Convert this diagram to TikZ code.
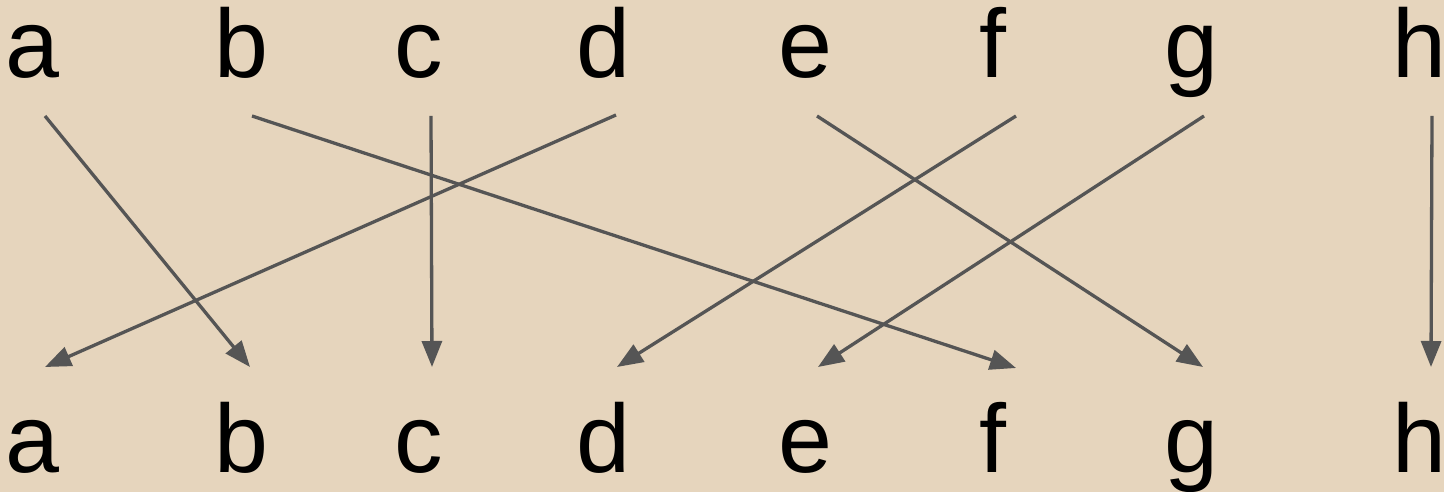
\documentclass[tikz,border=0pt]{standalone}
\usepackage{fontspec}
\setmainfont{Liberation Sans}
\usetikzlibrary{arrows.meta}
\definecolor{bg}{HTML}{E6D5BD}
\definecolor{arr}{HTML}{555555}
\begin{document}
\begin{tikzpicture}[x=1pt,y=1pt,
  letter/.style={anchor=base,inner sep=0pt,font=\fontsize{97}{100}\selectfont,text=black},
  conn/.style={draw=arr,line width=3.3pt,-{Triangle[length=26pt,width=20pt]}}]
\fill[bg] (0,0) rectangle (1444,492);
\useasboundingbox (0,0) rectangle (1444,492);
% letters, top and bottom rows
\foreach \n/\x in {a/32.5,b/241,c/419,d/603.5,e/805,f/993,g/1191,h/1419}{
  \node[letter] (t\n) at (\x,414) {\n};
  \node[letter] (b\n) at (\x,19) {\n};
}
% start coordinates
\coordinate (sa) at (45,376);
\coordinate (sb) at (252,376);
\coordinate (sc) at (431,376);
\coordinate (sd) at (616,377);
\coordinate (se) at (817,376);
\coordinate (sf) at (1016,376);
\coordinate (sg) at (1204,376);
\coordinate (sh) at (1432,376);
% end coordinates
\coordinate (ea) at (45,125);
\coordinate (eb) at (250,125);
\coordinate (ec) at (432,125);
\coordinate (ed) at (617,125);
\coordinate (ee) at (818,125);
\coordinate (ef) at (1016,124);
\coordinate (eg) at (1203,125);
\coordinate (eh) at (1431,125);
\draw[conn] (sa) -- (eb);
\draw[conn] (sb) -- (ef);
\draw[conn] (sc) -- (ec);
\draw[conn] (sd) -- (ea);
\draw[conn] (se) -- (eg);
\draw[conn] (sf) -- (ed);
\draw[conn] (sg) -- (ee);
\draw[conn] (sh) -- (eh);
\end{tikzpicture}
\end{document}
